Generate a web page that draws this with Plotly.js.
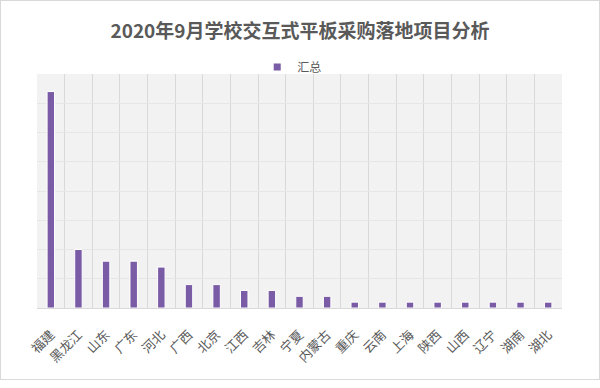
<!DOCTYPE html>
<html>
<head>
<meta charset="utf-8">
<script src="https://cdn.plot.ly/plotly-3.0.1.min.js"></script>
<style>
html,body{margin:0;padding:0;background:#fff;}
#wrap{width:598px;height:378px;border:1px solid #d9d9d9;}
#chart{width:598px;height:378px;}
</style>
</head>
<body>
<div id="wrap"><div id="chart"></div></div>
<script>
const provinces = ["福建","黑龙江","山东","广东","河北","广西","北京","江西","吉林","宁夏","内蒙古","重庆","云南","上海","陕西","山西","辽宁","湖南","湖北"];
const totals = [37,10,8,8,7,4,4,3,3,2,2,1,1,1,1,1,1,1,1];
const seriesName = "汇总";
const chartTitle = "2020年9月学校交互式平板采购落地项目分析";

const font = "'Noto Sans CJK SC', 'Noto Sans', sans-serif";
const purple = "#7a5ba5";

const data = [
  {
    type: "bar",
    x: provinces,
    y: totals,
    name: seriesName,
    showlegend: false,
    width: 0.27,
    marker: {color: purple, line: {color: "#ffffff", width: 1}},
    hoverinfo: "x+y"
  },
  {
    type: "scatter",
    mode: "markers",
    x: [null],
    y: [null],
    name: seriesName,
    showlegend: true,
    marker: {symbol: "square", size: 7, color: purple}
  }
];

const layout = {
  width: 598,
  height: 378,
  margin: {l: 36, r: 37, t: 73, b: 71, pad: 0, autoexpand: false},
  paper_bgcolor: "#ffffff",
  plot_bgcolor: "#f2f2f2",
  font: {family: font, color: "#595959", size: 12},
  title: {
    text: "<b>" + chartTitle + "</b>",
    font: {family: font, size: 19, color: "#595959"},
    x: 0.5, xanchor: "center",
    y: 1 - 30/378, yanchor: "middle", yref: "container"
  },
  showlegend: true,
  legend: {
    orientation: "h",
    x: 0.487, xanchor: "center", xref: "container",
    y: 1 - 66/378, yanchor: "middle", yref: "container",
    font: {family: font, size: 12, color: "#595959"},
    itemwidth: 30,
    bgcolor: "rgba(0,0,0,0)"
  },
  xaxis: {
    type: "category",
    tickson: "boundaries",
    showgrid: true,
    gridcolor: "#d9d9d9",
    gridwidth: 1,
    ticks: "",
    tickangle: -45,
    ticklabelstandoff: 13,
    tickfont: {family: font, size: 13, color: "#595959"},
    showline: true,
    linecolor: "#d9d9d9",
    linewidth: 1,
    zeroline: false,
    fixedrange: true
  },
  yaxis: {
    range: [0, 40],
    dtick: 5,
    showgrid: true,
    gridcolor: "#e6e6e6",
    gridwidth: 1,
    showticklabels: false,
    ticks: "",
    zeroline: false,
    showline: false,
    fixedrange: true
  },
  bargap: 0.73
};

Plotly.newPlot("chart", data, layout, {displayModeBar: false, staticPlot: true});
</script>
</body>
</html>
